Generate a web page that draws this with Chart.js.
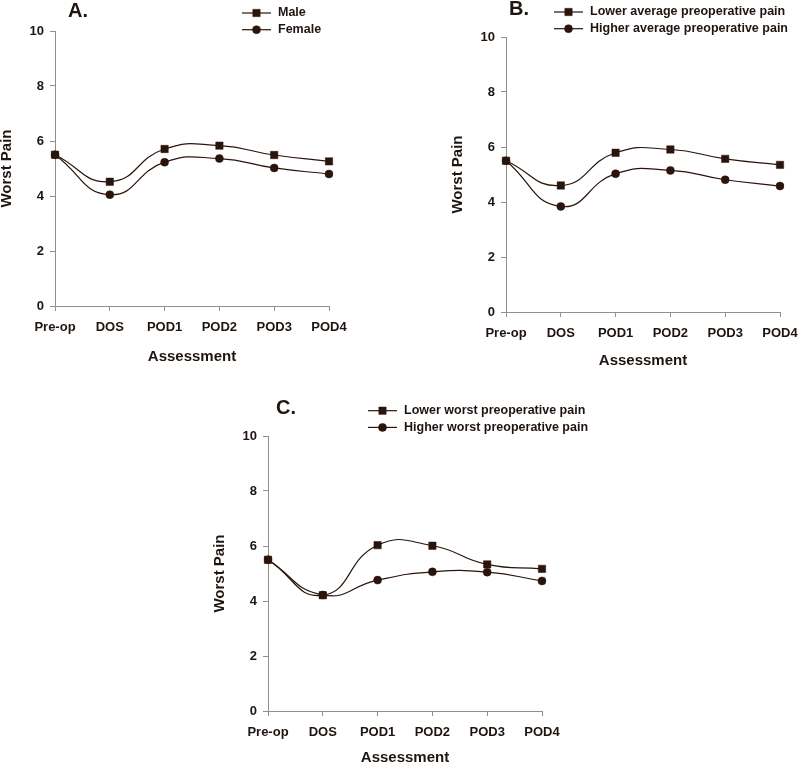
<!DOCTYPE html>
<html>
<head>
<meta charset="utf-8">
<script src="https://cdn.jsdelivr.net/npm/chart.js@4.4.1/dist/chart.umd.min.js"></script>
<style>
  html, body { margin: 0; padding: 0; background: #fff; overflow: hidden; }
  body { width: 798px; height: 765px; position: relative; }
  canvas { position: absolute; }
</style>
</head>
<body>
<canvas id="chartA" width="360" height="376" style="left:0px;top:0px"></canvas>
<canvas id="chartB" width="360" height="376" style="left:451px;top:0px"></canvas>
<canvas id="chartC" width="400" height="376" style="left:213px;top:400px"></canvas>
<script>
// categories
const assessments = ["Pre-op", "DOS", "POD1", "POD2", "POD3", "POD4"];

// A. sex
const maleWorst = [5.5, 4.52, 5.71, 5.83, 5.49, 5.26];
const femaleWorst = [5.5, 4.05, 5.23, 5.36, 5.02, 4.8];

// B. average preoperative pain
const lowerAvgWorst = [5.5, 4.6, 5.79, 5.91, 5.57, 5.35];
const higherAvgWorst = [5.5, 3.84, 5.03, 5.15, 4.81, 4.58];

// C. worst preoperative pain
const lowerWorstWorst = [5.5, 4.21, 6.03, 6.01, 5.33, 5.17];
const higherWorstWorst = [5.5, 4.22, 4.76, 5.06, 5.05, 4.73];

const INK = "#2a140b";
const TEXT = "#1f1510";
const AXIS = "#968d87";
const FONT = "'Liberation Sans', Arial, Helvetica, sans-serif";

// draws the panel letter and the line+marker legend
const panelDecor = {
    id: "panelDecor",
    afterDraw(chart, args, opts) {
        const ctx = chart.ctx;
        ctx.save();
        ctx.fillStyle = TEXT;
        ctx.textBaseline = "middle";
        ctx.textAlign = "left";
        ctx.font = "bold 20px " + FONT;
        ctx.fillText(opts.letter, opts.letterX, opts.letterY);

        ctx.font = "bold 12.5px " + FONT;
        chart.data.datasets.forEach((ds, i) => {
            const y = opts.legendY + i * 16.7;
            ctx.strokeStyle = ds.borderColor;
            ctx.lineWidth = ds.borderWidth;
            ctx.beginPath();
            ctx.moveTo(opts.legendX, y);
            ctx.lineTo(opts.legendX + 29, y);
            ctx.stroke();
            ctx.fillStyle = ds.pointBackgroundColor;
            ctx.strokeStyle = ds.pointBorderColor;
            ctx.lineWidth = ds.pointBorderWidth;
            Chart.helpers.drawPoint(ctx, {
                pointStyle: ds.pointStyle,
                radius: ds.pointRadius,
                rotation: 0,
                borderWidth: ds.pointBorderWidth,
            }, opts.legendX + 14.5, y);
            ctx.fillStyle = TEXT;
            ctx.fillText(ds.label, opts.legendX + 36, y);
        });
        ctx.restore();
    },
};

function series(label, values, style, order) {
    return {
        label: label,
        data: values,
        borderColor: INK,
        borderWidth: 1.2,
        tension: 0.5,
        pointStyle: style,
        pointRadius: style === "rect" ? 5.2 : 4.0,
        pointBackgroundColor: INK,
        pointBorderColor: INK,
        pointBorderWidth: 0.5,
        order: order,
        fill: false,
    };
}

function makePanel(id, datasets, decor, padTop, padBottom, titleGap) {
    const canvas = document.getElementById(id);
    return new Chart(canvas, {
        type: "line",
        data: { labels: assessments, datasets: datasets },
        plugins: [panelDecor],
        options: {
            responsive: false,
            animation: false,
            events: [],
            layout: { padding: { left: 0, top: padTop, right: canvas.width - 329, bottom: padBottom } },
            plugins: {
                legend: { display: false },
                tooltip: { enabled: false },
                panelDecor: decor,
            },
            scales: {
                x: {
                    type: "category",
                    offset: false,
                    afterFit: (scale) => { scale.height = 64; },
                    grid: {
                        drawOnChartArea: false,
                        drawTicks: true,
                        tickLength: 5,
                        tickColor: AXIS,
                        offset: false,
                    },
                    border: { display: true, color: AXIS, width: 1 },
                    ticks: {
                        color: TEXT,
                        font: { family: FONT, size: 13, weight: "bold" },
                        padding: 9,
                        maxRotation: 0,
                        autoSkip: false,
                    },
                    title: {
                        display: true,
                        text: "Assessment",
                        color: TEXT,
                        font: { family: FONT, size: 15, weight: "bold" },
                        padding: { top: 0, bottom: titleGap },
                    },
                },
                y: {
                    min: 0,
                    max: 10,
                    afterFit: (scale) => { scale.width = 55; },
                    grid: {
                        drawOnChartArea: false,
                        drawTicks: true,
                        tickLength: 5,
                        tickColor: AXIS,
                    },
                    border: { display: true, color: AXIS, width: 1 },
                    ticks: {
                        stepSize: 2,
                        color: TEXT,
                        font: { family: FONT, size: 13, weight: "bold" },
                        padding: 6,
                    },
                    title: {
                        display: true,
                        text: "Worst Pain",
                        color: TEXT,
                        font: { family: FONT, size: 15, weight: "bold", lineHeight: 0.85 },
                        padding: { top: 0, bottom: 0 },
                    },
                },
            },
        },
    });
}

makePanel("chartA", [
    series("Male", maleWorst, "rect", 1),
    series("Female", femaleWorst, "circle", 0),
], { letter: "A.", letterX: 68, letterY: 11, legendX: 242, legendY: 13 }, 31, 6, 4.5);

makePanel("chartB", [
    series("Lower average preoperative pain", lowerAvgWorst, "rect", 0),
    series("Higher average preoperative pain", higherAvgWorst, "circle", 1),
], { letter: "B.", letterX: 58, letterY: 9, legendX: 103, legendY: 12 }, 37, 0, 6);

makePanel("chartC", [
    series("Lower worst preoperative pain", lowerWorstWorst, "rect", 0),
    series("Higher worst preoperative pain", higherWorstWorst, "circle", 1),
], { letter: "C.", letterX: 63, letterY: 8.5, legendX: 155, legendY: 10.7 }, 36, 1, 8);
</script>
</body>
</html>
